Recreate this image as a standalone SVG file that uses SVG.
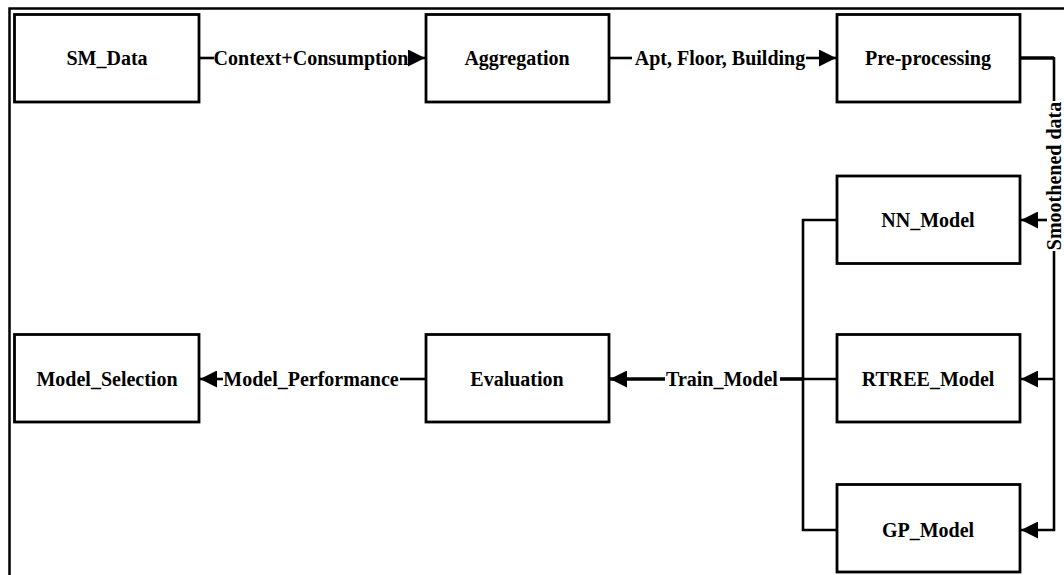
<svg xmlns="http://www.w3.org/2000/svg" width="1064" height="575" viewBox="0 0 1064 575">
  <style>
    .frame { fill: none; stroke: #000; stroke-width: 2.5; }
    .box rect { fill: #fff; stroke: #000; stroke-width: 2.8; }
    .box text, .lbl { font-family: "Liberation Serif", "Times New Roman", serif; font-weight: bold; font-size: 20px; fill: #000; text-anchor: middle; }
    .edge { fill: none; stroke: #000; stroke-width: 2.6; }
    .shared { stroke-width: 3.6; }
  </style>
  <defs>
    <marker id="arrow" viewBox="0 0 17 17" refX="17" refY="8.5" markerWidth="17" markerHeight="17" markerUnits="userSpaceOnUse" orient="auto">
      <path d="M0,0 L17,8.5 L0,17 z" fill="#000"/>
    </marker>
  </defs>

  <rect fill="#fff" x="0" y="0" width="1064" height="575"/>
  <!-- outer frame: only its top and left edges fall inside the page -->
  <path class="frame" d="M1064,8.5 H9.5 V575"/>

  <!-- connectors -->
  <g id="connectors">
    <!-- SM_Data -> Aggregation -->
    <path class="edge" d="M199,58 H214"/>
    <path class="edge" d="M408,58 H425" marker-end="url(#arrow)"/>
    <text class="lbl" x="311" y="65">Context+Consumption</text>

    <!-- Aggregation -> Pre-processing -->
    <path class="edge" d="M609,58 H632"/>
    <path class="edge" d="M806,58 H836" marker-end="url(#arrow)"/>
    <text class="lbl" x="720" y="65">Apt, Floor, Building</text>

    <!-- Pre-processing -> models -->
    <path class="edge shared" d="M1020,58 H1054"/>
    <path class="edge" d="M1054,57 V101"/>
    <path class="edge" d="M1054,251 V530 H1021" marker-end="url(#arrow)"/>
    <path class="edge" d="M1047,220 H1021" marker-end="url(#arrow)"/>
    <path class="edge" d="M1054,379 H1021" marker-end="url(#arrow)"/>
    <text class="lbl" transform="translate(1054,176) rotate(-90)" x="0" y="7">Smoothened data</text>

    <!-- models -> Evaluation -->
    <path class="edge" d="M837,220 H803 V530 H837"/>
    <path class="edge" d="M837,379 H803"/>
    <path class="edge shared" d="M803,379 H780"/>
    <path class="edge shared" d="M665,379 H610" marker-end="url(#arrow)"/>
    <text class="lbl" x="722" y="386">Train_Model</text>

    <!-- Evaluation -> Model_Selection -->
    <path class="edge" d="M426,379 H400"/>
    <path class="edge" d="M223,379 H200" marker-end="url(#arrow)"/>
    <text class="lbl" x="311" y="386">Model_Performance</text>
  </g>

  <!-- nodes -->
  <g id="sm_data" class="box">
    <rect x="14.5" y="14.5" width="184.5" height="87.5"/>
    <text x="107" y="65">SM_Data</text>
  </g>
  <g id="aggregation" class="box">
    <rect x="426" y="14.5" width="183" height="87.5"/>
    <text x="517" y="65">Aggregation</text>
  </g>
  <g id="pre_processing" class="box">
    <rect x="837" y="14.5" width="183" height="87.5"/>
    <text x="928" y="65">Pre-processing</text>
  </g>
  <g id="nn_model" class="box">
    <rect x="837" y="176" width="183" height="87.5"/>
    <text x="928" y="227">NN_Model</text>
  </g>
  <g id="rtree_model" class="box">
    <rect x="837" y="334.5" width="183" height="87.5"/>
    <text x="928" y="386">RTREE_Model</text>
  </g>
  <g id="gp_model" class="box">
    <rect x="837" y="484.5" width="183" height="87.5"/>
    <text x="928" y="537">GP_Model</text>
  </g>
  <g id="evaluation" class="box">
    <rect x="426" y="334.5" width="183" height="87.5"/>
    <text x="517" y="386">Evaluation</text>
  </g>
  <g id="model_selection" class="box">
    <rect x="14.5" y="334.5" width="184.5" height="87.5"/>
    <text x="107" y="386">Model_Selection</text>
  </g>
</svg>
